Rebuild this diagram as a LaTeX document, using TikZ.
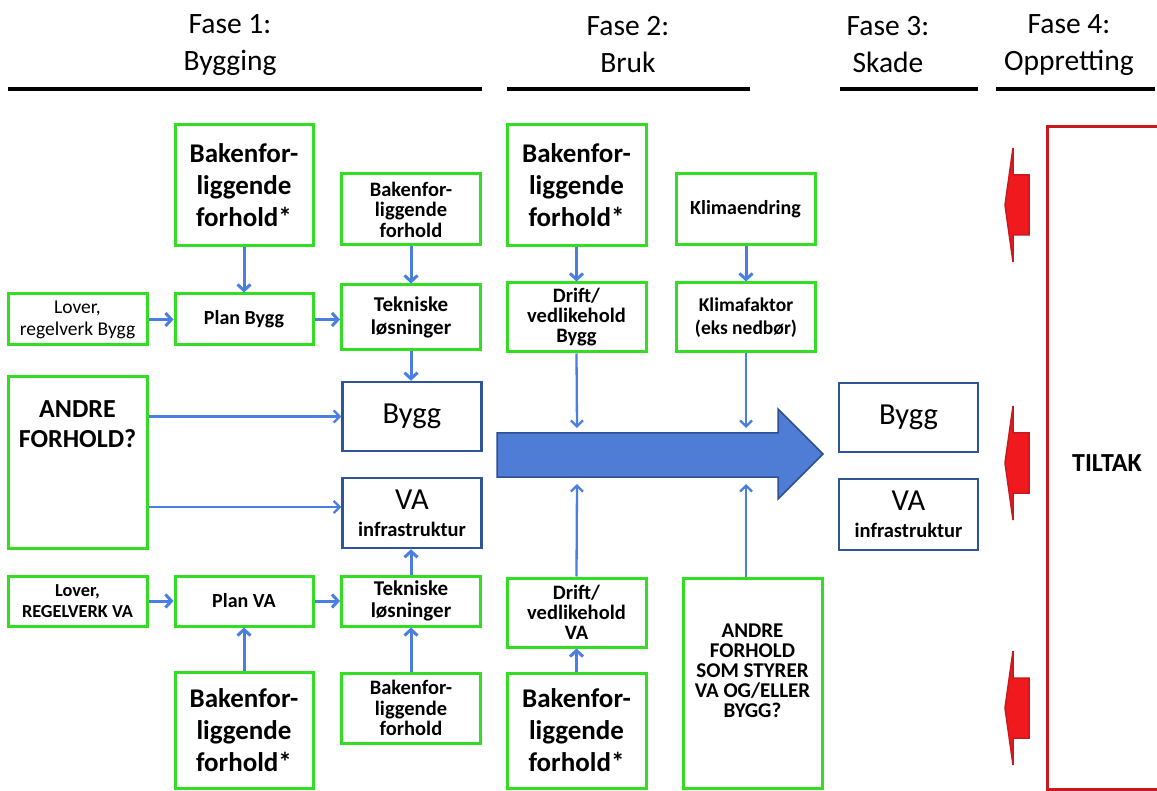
\documentclass[tikz,border=0pt]{standalone}
\usepackage{fontspec}
\setmainfont{Carlito}
\usepackage{tikz}
\usetikzlibrary{arrows.meta}

\definecolor{boxgreen}{RGB}{51,221,34}
\definecolor{boxblue}{RGB}{47,85,151}
\definecolor{linkblue}{RGB}{74,126,224}
\definecolor{flowfill}{RGB}{79,125,214}
\definecolor{flowline}{RGB}{44,80,145}
\definecolor{tiltakred}{RGB}{200,25,30}
\definecolor{pilred}{RGB}{240,25,30}

\newcommand{\hdrfont}{\fontsize{29.5}{37}\selectfont}
\newcommand{\bigfont}{\fontsize{27}{32}\selectfont\bfseries}
\newcommand{\smallfont}{\fontsize{20.5}{20.5}\selectfont\bfseries}
\newcommand{\midfont}{\fontsize{21}{22.5}\selectfont\bfseries}

\begin{document}
\begin{tikzpicture}[x=1pt,y=-1pt,
    gbox/.style={draw=boxgreen, line width=3pt, align=center, inner sep=0pt, minimum width=139pt},
    bbox/.style={draw=boxblue, line width=2.5pt, align=center, inner sep=0pt, minimum width=139pt},
    conn/.style={draw=linkblue, line width=3pt, -{Straight Barb[length=6pt,width=13pt]}},
    thinconn/.style={draw=linkblue, line width=2.3pt, -{Straight Barb[length=6pt,width=12pt]}},
    hdrline/.style={line width=4pt}]
    \useasboundingbox (0,0) rectangle (1157,791);

    \node (fase1) at (230,45) [align=center, font=\hdrfont] {Fase 1:\\Bygging};
    \node (fase2) at (628,45) [align=center, font=\hdrfont] {Fase 2:\\Bruk};
    \node (fase3) at (888,45) [align=center, font=\hdrfont] {Fase 3:\\Skade};
    \node (fase4) at (1069,45) [align=center, font=\hdrfont] {Fase 4:\\Oppretting};
    \draw[hdrline] (8,89) -- (482,89);
    \draw[hdrline] (507,89) -- (750,89);
    \draw[hdrline] (840,89) -- (978,89);
    \draw[hdrline] (996,89) -- (1155,89);

    \node (bakA) at (244,185.5) [gbox, minimum width=138pt, minimum height=121pt, font=\bigfont] {Bakenfor-\\liggende\\forhold*};
    \node (bakB) at (411,209.5) [gbox, minimum height=71pt, font=\smallfont] {Bakenfor-\\liggende\\forhold};
    \node (loverA) at (77.5,319.5) [gbox, minimum height=51pt, font=\fontsize{19.5}{22}\selectfont] {Lover,\\regelverk Bygg};
    \node (planA) at (244,319.5) [gbox, minimum width=138pt, minimum height=51pt, font=\fontsize{20}{22}\selectfont\bfseries] {Plan Bygg};
    \node (tekA) at (411,317.5) [gbox, minimum height=65pt, font=\midfont] {Tekniske\\løsninger};
    \node (andreA) at (77.5,462.5) [gbox, minimum height=171pt,
        label={[anchor=north, yshift=-22pt, align=center, font=\fontsize{26}{30}\selectfont\bfseries]north:ANDRE\\FORHOLD?}] {};
    \node (byggA) at (412,416.5) [bbox, minimum height=69pt, font=\fontsize{30.5}{34}\selectfont] {Bygg};
    \node (vaA) at (412,513) [bbox, minimum height=70pt, font=\fontsize{30.5}{30}\selectfont] {VA\\[-3pt]{\fontsize{20.5}{20}\selectfont\bfseries infrastruktur}};
    \node (loverB) at (77.5,601) [gbox, minimum height=50pt, font=\fontsize{18.3}{21}\selectfont\bfseries] {Lover,\\REGELVERK VA};
    \node (planB) at (244,601) [gbox, minimum width=138pt, minimum height=50pt, font=\fontsize{20}{22}\selectfont\bfseries] {Plan VA};
    \node (tekB) at (411,601) [gbox, minimum height=50pt, font=\midfont] {Tekniske\\løsninger};
    \node (bakC) at (244,730) [gbox, minimum width=138pt, minimum height=116pt, font=\bigfont] {Bakenfor-\\liggende\\forhold*};
    \node (bakD) at (411,708) [gbox, minimum height=70pt, font=\smallfont] {Bakenfor-\\liggende\\forhold};

    \node (bakE) at (576.5,185.5) [gbox, minimum height=121pt, font=\bigfont] {Bakenfor-\\liggende\\forhold*};
    \node (klima) at (745.5,209.5) [gbox, minimum height=71pt, font=\fontsize{20}{22}\selectfont\bfseries] {Klimaendring};
    \node (driftA) at (576.5,317.5) [gbox, minimum height=69pt, font=\fontsize{20.5}{20}\selectfont\bfseries] {Drift/\\vedlikehold\\Bygg};
    \node (faktor) at (746,317.5) [gbox, minimum height=69pt, font=\fontsize{19.5}{23}\selectfont\bfseries] {Klimafaktor\\(eks nedbør)};
    \node (driftB) at (576.5,612.5) [gbox, minimum height=69pt, font=\fontsize{20.5}{20}\selectfont\bfseries] {Drift/\\vedlikehold\\VA};
    \node (bakF) at (576.5,730.5) [gbox, minimum height=115pt, font=\bigfont] {Bakenfor-\\liggende\\forhold*};
    \node (andreB) at (752.5,683) [gbox, minimum height=210pt,
        label={[anchor=north, yshift=-44pt, align=center, font=\fontsize{21}{20}\selectfont\bfseries]north:ANDRE\\FORHOLD\\SOM STYRER\\VA OG/ELLER\\BYGG?}] {};

    \draw[draw=flowline, fill=flowfill, line width=1.5pt, line join=miter]
        (497,433) -- (778,433) -- (778,409) -- (823,454) -- (778,499) -- (778,477) -- (497,477) -- cycle;
    \coordinate (flowdn1) at (577,428);
    \coordinate (flowdn2) at (746,428);
    \coordinate (flowup1) at (577,484);
    \coordinate (flowup2) at (746,484);

    \node (byggC) at (908.5,417.5) [bbox, minimum height=69pt, font=\fontsize{30.5}{34}\selectfont] {Bygg};
    \node (vaC) at (908.5,514.5) [bbox, minimum height=71pt, font=\fontsize{30.5}{30}\selectfont] {VA\\[-3pt]{\fontsize{20.5}{20}\selectfont\bfseries infrastruktur}};

    \draw[tiltakred, line width=3pt] (1165,127) -- (1047,127) -- (1047,789) -- (1165,789);
    \node (tiltak) at (1107,463) [font=\fontsize{26}{28}\selectfont\bfseries] {TILTAK};
    \foreach \yc in {205,463,708}
        \filldraw[draw=tiltakred, fill=pilred, line width=1.5pt]
            (1029,\yc-30) -- (1013,\yc-30) -- (1013,\yc-57) -- (1005,\yc) -- (1013,\yc+57) -- (1013,\yc+30) -- (1029,\yc+30) -- cycle;

    \draw[conn] (bakA) -- (planA);
    \draw[conn] (bakB.south) -- (bakB.south |- tekA.north);
    \draw[conn] (loverA) -- (planA);
    \draw[conn] (planA.east) -- (planA.east -| tekA.west);
    \draw[conn] (tekA.south) -- (tekA.south |- byggA.north);
    \draw[thinconn] (andreA.east |- byggA.west) -- (byggA.west);
    \draw[thinconn] (andreA.east |- 0,507) -- (vaA.west |- 0,507);
    \draw[conn] (loverB) -- (planB);
    \draw[conn] (planB.east) -- (planB.east -| tekB.west);
    \draw[conn] (bakC) -- (planB);
    \draw[conn] (bakD.north) -- (bakD.north |- tekB.south);
    \draw[conn] (tekB.north) -- (tekB.north |- vaA.south);

    \draw[conn] (bakE) -- (driftA);
    \draw[conn] (klima.south -| faktor) -- (faktor);
    \draw[thinconn] (driftA.south) -- (flowdn1);
    \draw[thinconn] (faktor.south) -- (flowdn2);
    \draw[thinconn] (driftB.north) -- (flowup1);
    \draw[thinconn] (andreB.north -| faktor) -- (flowup2);
    \draw[conn] (bakF) -- (driftB);
\end{tikzpicture}
\end{document}
